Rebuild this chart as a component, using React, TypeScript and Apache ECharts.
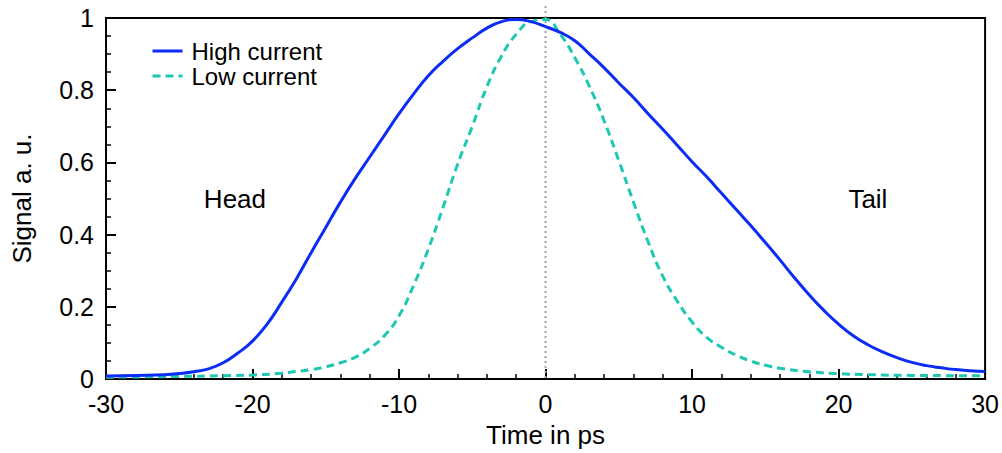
import React, { useEffect, useRef } from "react";
import * as echarts from "echarts";

const xTicks = [-30, -20, -10, 0, 10, 20, 30];
const yTicks = [0, 0.2, 0.4, 0.6, 0.8, 1];

const highTime = [-30, -28, -26, -25, -24, -23, -22, -21, -20, -19, -18, -17, -16, -15, -14, -13, -12, -11, -10, -9, -8, -7, -6, -5, -4, -3, -2, -1, 0, 1, 2, 3, 4, 5, 6, 7, 8, 9, 10, 11, 12, 13, 14, 15, 16, 17, 18, 19, 20, 21, 22, 23, 24, 25, 26, 27, 28, 29, 30];
const highSignal = [0.008, 0.010, 0.012, 0.015, 0.020, 0.028, 0.045, 0.072, 0.105, 0.152, 0.213, 0.278, 0.35, 0.42, 0.49, 0.555, 0.615, 0.675, 0.735, 0.79, 0.84, 0.88, 0.915, 0.945, 0.972, 0.99, 0.996, 0.99, 0.976, 0.96, 0.937, 0.90, 0.862, 0.82, 0.78, 0.735, 0.692, 0.647, 0.602, 0.56, 0.515, 0.47, 0.425, 0.378, 0.33, 0.28, 0.233, 0.19, 0.152, 0.12, 0.095, 0.075, 0.059, 0.046, 0.037, 0.031, 0.026, 0.023, 0.021];

const lowTime = [-30, -25, -22, -20, -18, -17, -16, -15, -14, -13, -12, -11, -10, -9, -8, -7, -6, -5, -4, -3, -2, -1, 0, 1, 2, 3, 4, 5, 6, 7, 8, 9, 10, 11, 12, 13, 14, 15, 16, 18, 20, 22, 25, 30];
const lowSignal = [0.005, 0.007, 0.009, 0.011, 0.016, 0.021, 0.026, 0.034, 0.045, 0.060, 0.085, 0.12, 0.175, 0.26, 0.36, 0.475, 0.595, 0.70, 0.81, 0.895, 0.955, 0.99, 0.996, 0.955, 0.89, 0.81, 0.715, 0.605, 0.49, 0.38, 0.285, 0.215, 0.158, 0.115, 0.088, 0.066, 0.05, 0.038, 0.03, 0.02, 0.015, 0.012, 0.010, 0.009];

const annotations = [
  { name: "Head", x: -21.2, y: 0.5 },
  { name: "Tail", x: 22.0, y: 0.5 },
];

const referenceTime = 0;

const FONT = "Liberation Sans, Arial, Helvetica, sans-serif";

export default function App() {
  const ref = useRef<HTMLDivElement>(null);
  useEffect(() => {
    if (!ref.current) return;
    const chart = echarts.init(ref.current, undefined, { renderer: "svg" });
    const high = highTime.map((t, i) => [t, highSignal[i]]);
    const low = lowTime.map((t, i) => [t, lowSignal[i]]);
    chart.setOption({
      animation: false,
      backgroundColor: "#ffffff",
      textStyle: { fontFamily: FONT },
      grid: {
        left: 106,
        right: 15,
        top: 18,
        bottom: 69,
        show: true,
        borderColor: "#000",
        borderWidth: 2,
        backgroundColor: "transparent",
      },
      legend: {
        orient: "vertical",
        left: 146,
        top: 34,
        itemWidth: 30,
        itemHeight: 6,
        itemGap: 1,
        itemStyle: { opacity: 0 },
        lineStyle: { width: 3 },
        textStyle: { fontFamily: FONT, fontSize: 24, color: "#000", padding: [0, 0, 0, 4] },
        data: ["High current", "Low current"],
      },
      xAxis: {
        type: "value",
        min: xTicks[0],
        max: xTicks[xTicks.length - 1],
        interval: 10,
        name: "Time in ps",
        nameLocation: "middle",
        nameGap: 43,
        nameTextStyle: { fontFamily: FONT, fontSize: 26, color: "#000" },
        axisLine: { show: true, onZero: false, lineStyle: { color: "#000", width: 2 } },
        axisTick: { show: true, inside: true, length: 10, lineStyle: { color: "#000", width: 2 } },
        minorTick: { show: true, splitNumber: 5, length: 5, lineStyle: { color: "#000", width: 1.5 } },
        axisLabel: { fontFamily: FONT, fontSize: 25, color: "#000", margin: 12 },
        splitLine: { show: false },
      },
      yAxis: {
        type: "value",
        min: yTicks[0],
        max: yTicks[yTicks.length - 1],
        interval: 0.2,
        name: "Signal a. u.",
        nameLocation: "middle",
        nameGap: 71,
        nameTextStyle: { fontFamily: FONT, fontSize: 26, color: "#000" },
        axisLine: { show: true, onZero: false, lineStyle: { color: "#000", width: 2 } },
        axisTick: { show: true, inside: true, length: 10, lineStyle: { color: "#000", width: 2 } },
        minorTick: { show: true, splitNumber: 4, length: 5, lineStyle: { color: "#000", width: 1.5 } },
        axisLabel: { fontFamily: FONT, fontSize: 25, color: "#000", margin: 12 },
        splitLine: { show: false },
      },
      series: [
        {
          name: "High current",
          type: "line",
          data: high,
          smooth: 0.5,
          symbol: "none",
          color: "#0a2cf5",
          lineStyle: { color: "#0a2cf5", width: 3 },
          z: 3,
          markPoint: {
            symbol: "circle",
            symbolSize: 0,
            label: {
              show: true,
              position: "inside",
              formatter: (p: any) => p.name,
              fontFamily: FONT,
              fontSize: 26,
              color: "#000",
            },
            data: annotations.map((a) => ({ name: a.name, coord: [a.x, a.y] })),
          },
        },
        {
          name: "Low current",
          type: "line",
          data: low,
          smooth: 0.5,
          symbol: "none",
          color: "#1ec8b2",
          lineStyle: { color: "#1ec8b2", width: 3, type: [8, 5] },
          z: 2,
        },
      ],
    });
    const px = chart.convertToPixel({ xAxisIndex: 0 }, referenceTime) as number;
    const yBottom = chart.convertToPixel({ yAxisIndex: 0 }, yTicks[0]) as number;
    chart.setOption({
      graphic: [
        {
          type: "line",
          z: 1,
          shape: { x1: px, y1: 6, x2: px, y2: yBottom },
          style: { stroke: "#a0a0a0", lineWidth: 2, lineDash: [2, 3] },
        },
      ],
    });
    return () => chart.dispose();
  }, []);
  return <div ref={ref} style={{ width: 1002, height: 453, position: "absolute", left: 0, top: 0 }} />;
}
